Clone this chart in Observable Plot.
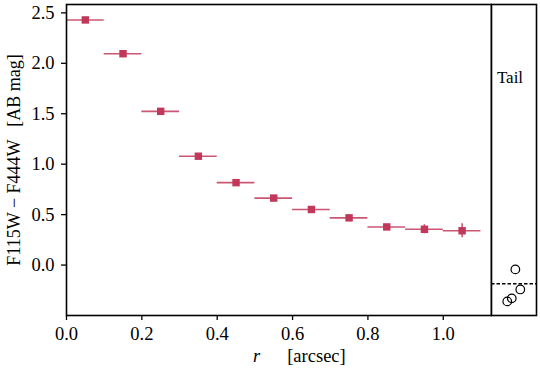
<!DOCTYPE html>
<html>
<head>
<meta charset="utf-8">
<script src="https://cdn.jsdelivr.net/npm/d3@7"></script>
<script src="https://cdn.jsdelivr.net/npm/@observablehq/plot@0.6"></script>
<style>
  html, body { margin: 0; padding: 0; background: #fff; }
  #wrap { position: relative; width: 540px; height: 373px; }
  #wrap svg { position: absolute; top: 0; }
  #wrap svg text { font-family: "Liberation Serif", "Times New Roman", Times, Tinos, "Nimbus Roman", "Noto Serif", "DejaVu Serif", serif; }
</style>
</head>
<body>
<div id="wrap"></div>
<script>
// radial bins (arcsec)
const radius = [0.05, 0.15, 0.25, 0.35, 0.45, 0.55, 0.65, 0.75, 0.85, 0.95, 1.05];
const binHalfWidth = [0.05, 0.05, 0.05, 0.05, 0.05, 0.05, 0.05, 0.05, 0.05, 0.05, 0.05];
// F115W - F444W colour (AB mag)
const colour = [2.43, 2.095, 1.524, 1.079, 0.817, 0.664, 0.551, 0.468, 0.378, 0.355, 0.34];
const colourErr = [0.01, 0.01, 0.01, 0.01, 0.01, 0.01, 0.012, 0.015, 0.02, 0.045, 0.07];
// tail measurements
const tailPos = [0.35, 0.45, 0.53, 0.64];
const tailColour = [-0.36, -0.33, -0.043, -0.242];
const tailMean = [-0.185];
const xTicks = [0.0, 0.2, 0.4, 0.6, 0.8, 1.0];
const yTicks = [0.0, 0.5, 1.0, 1.5, 2.0, 2.5];

const profile = radius.map((r, i) => ({r, hw: binHalfWidth[i], c: colour[i], e: colourErr[i]}));
const tail = tailPos.map((p, i) => ({p, c: tailColour[i]}));

const red = "#c2385b";
const yDomain = [-0.5, 2.583];
const font = "'Liberation Serif', 'Times New Roman', Times, Tinos, 'Nimbus Roman', 'Noto Serif', 'DejaVu Serif', serif";

const main = Plot.plot({
  width: 492, height: 373,
  marginLeft: 66, marginRight: 1, marginTop: 4, marginBottom: 58,
  style: {fontFamily: font, fontSize: "18px", color: "black", background: "transparent"},
  x: {domain: [0, 1.128]},
  y: {domain: yDomain},
  marks: [
    Plot.ruleY(profile, {y: "c", x1: d => d.r - d.hw, x2: d => d.r + d.hw, stroke: red, strokeWidth: 1.6, strokeOpacity: 0.85}),
    Plot.ruleX(profile, {x: "r", y1: d => d.c - d.e, y2: d => d.c + d.e, stroke: red, strokeWidth: 1.6, strokeOpacity: 0.85}),
    Plot.dot(profile, {x: "r", y: "c", symbol: "square", r: 4.2, fill: red}),
    Plot.axisX({ticks: xTicks, tickFormat: d3.format(".1f"), tickSize: 5, tickPadding: 6, fontSize: 18.5, label: null, strokeWidth: 1.3}),
    Plot.axisY({ticks: yTicks, tickFormat: d3.format(".1f"), tickSize: 5, tickPadding: 7, fontSize: 18.5, label: null, strokeWidth: 1.3}),
    Plot.frame({stroke: "black", strokeWidth: 1.6})
  ]
});
main.style.left = "0px";

const side = Plot.plot({
  width: 50, height: 373,
  marginLeft: 1, marginRight: 4, marginTop: 4, marginBottom: 58,
  style: {fontFamily: font, fontSize: "16px", color: "black", background: "transparent"},
  x: {domain: [0, 1], axis: null},
  y: {domain: yDomain, axis: null},
  marks: [
    Plot.ruleY(tailMean, {stroke: "black", strokeWidth: 1.5, strokeDasharray: "3.5,2"}),
    Plot.dot(tail, {x: "p", y: "c", r: 4.3, stroke: "black", strokeWidth: 1.2, fill: "none"}),
    Plot.text(["Tail"], {frameAnchor: "top", lineAnchor: "middle", dy: 73.5, dx: -4, fontSize: 17, fill: "black"}),
    Plot.frame({stroke: "black", strokeWidth: 1.6})
  ]
});
side.style.left = "490px";

const wrap = document.getElementById("wrap");
wrap.append(main, side);

// axis titles
const svg = d3.select(main);
const xl = svg.append("text")
  .attr("x", 253).attr("y", 362)
  .attr("text-anchor", "start")
  .style("font-family", font).attr("font-size", 18.5).attr("fill", "black");
xl.append("tspan").attr("font-style", "italic").text("r");
xl.append("tspan").attr("dx", 27).text("[arcsec]");

svg.append("text")
  .attr("transform", "translate(20,160) rotate(-90)")
  .attr("text-anchor", "middle")
  .style("font-family", font).attr("font-size", 18).attr("fill", "black")
  .text("F115W \u2212 F444W\u2002\u2009[AB mag]");
</script>
</body>
</html>
